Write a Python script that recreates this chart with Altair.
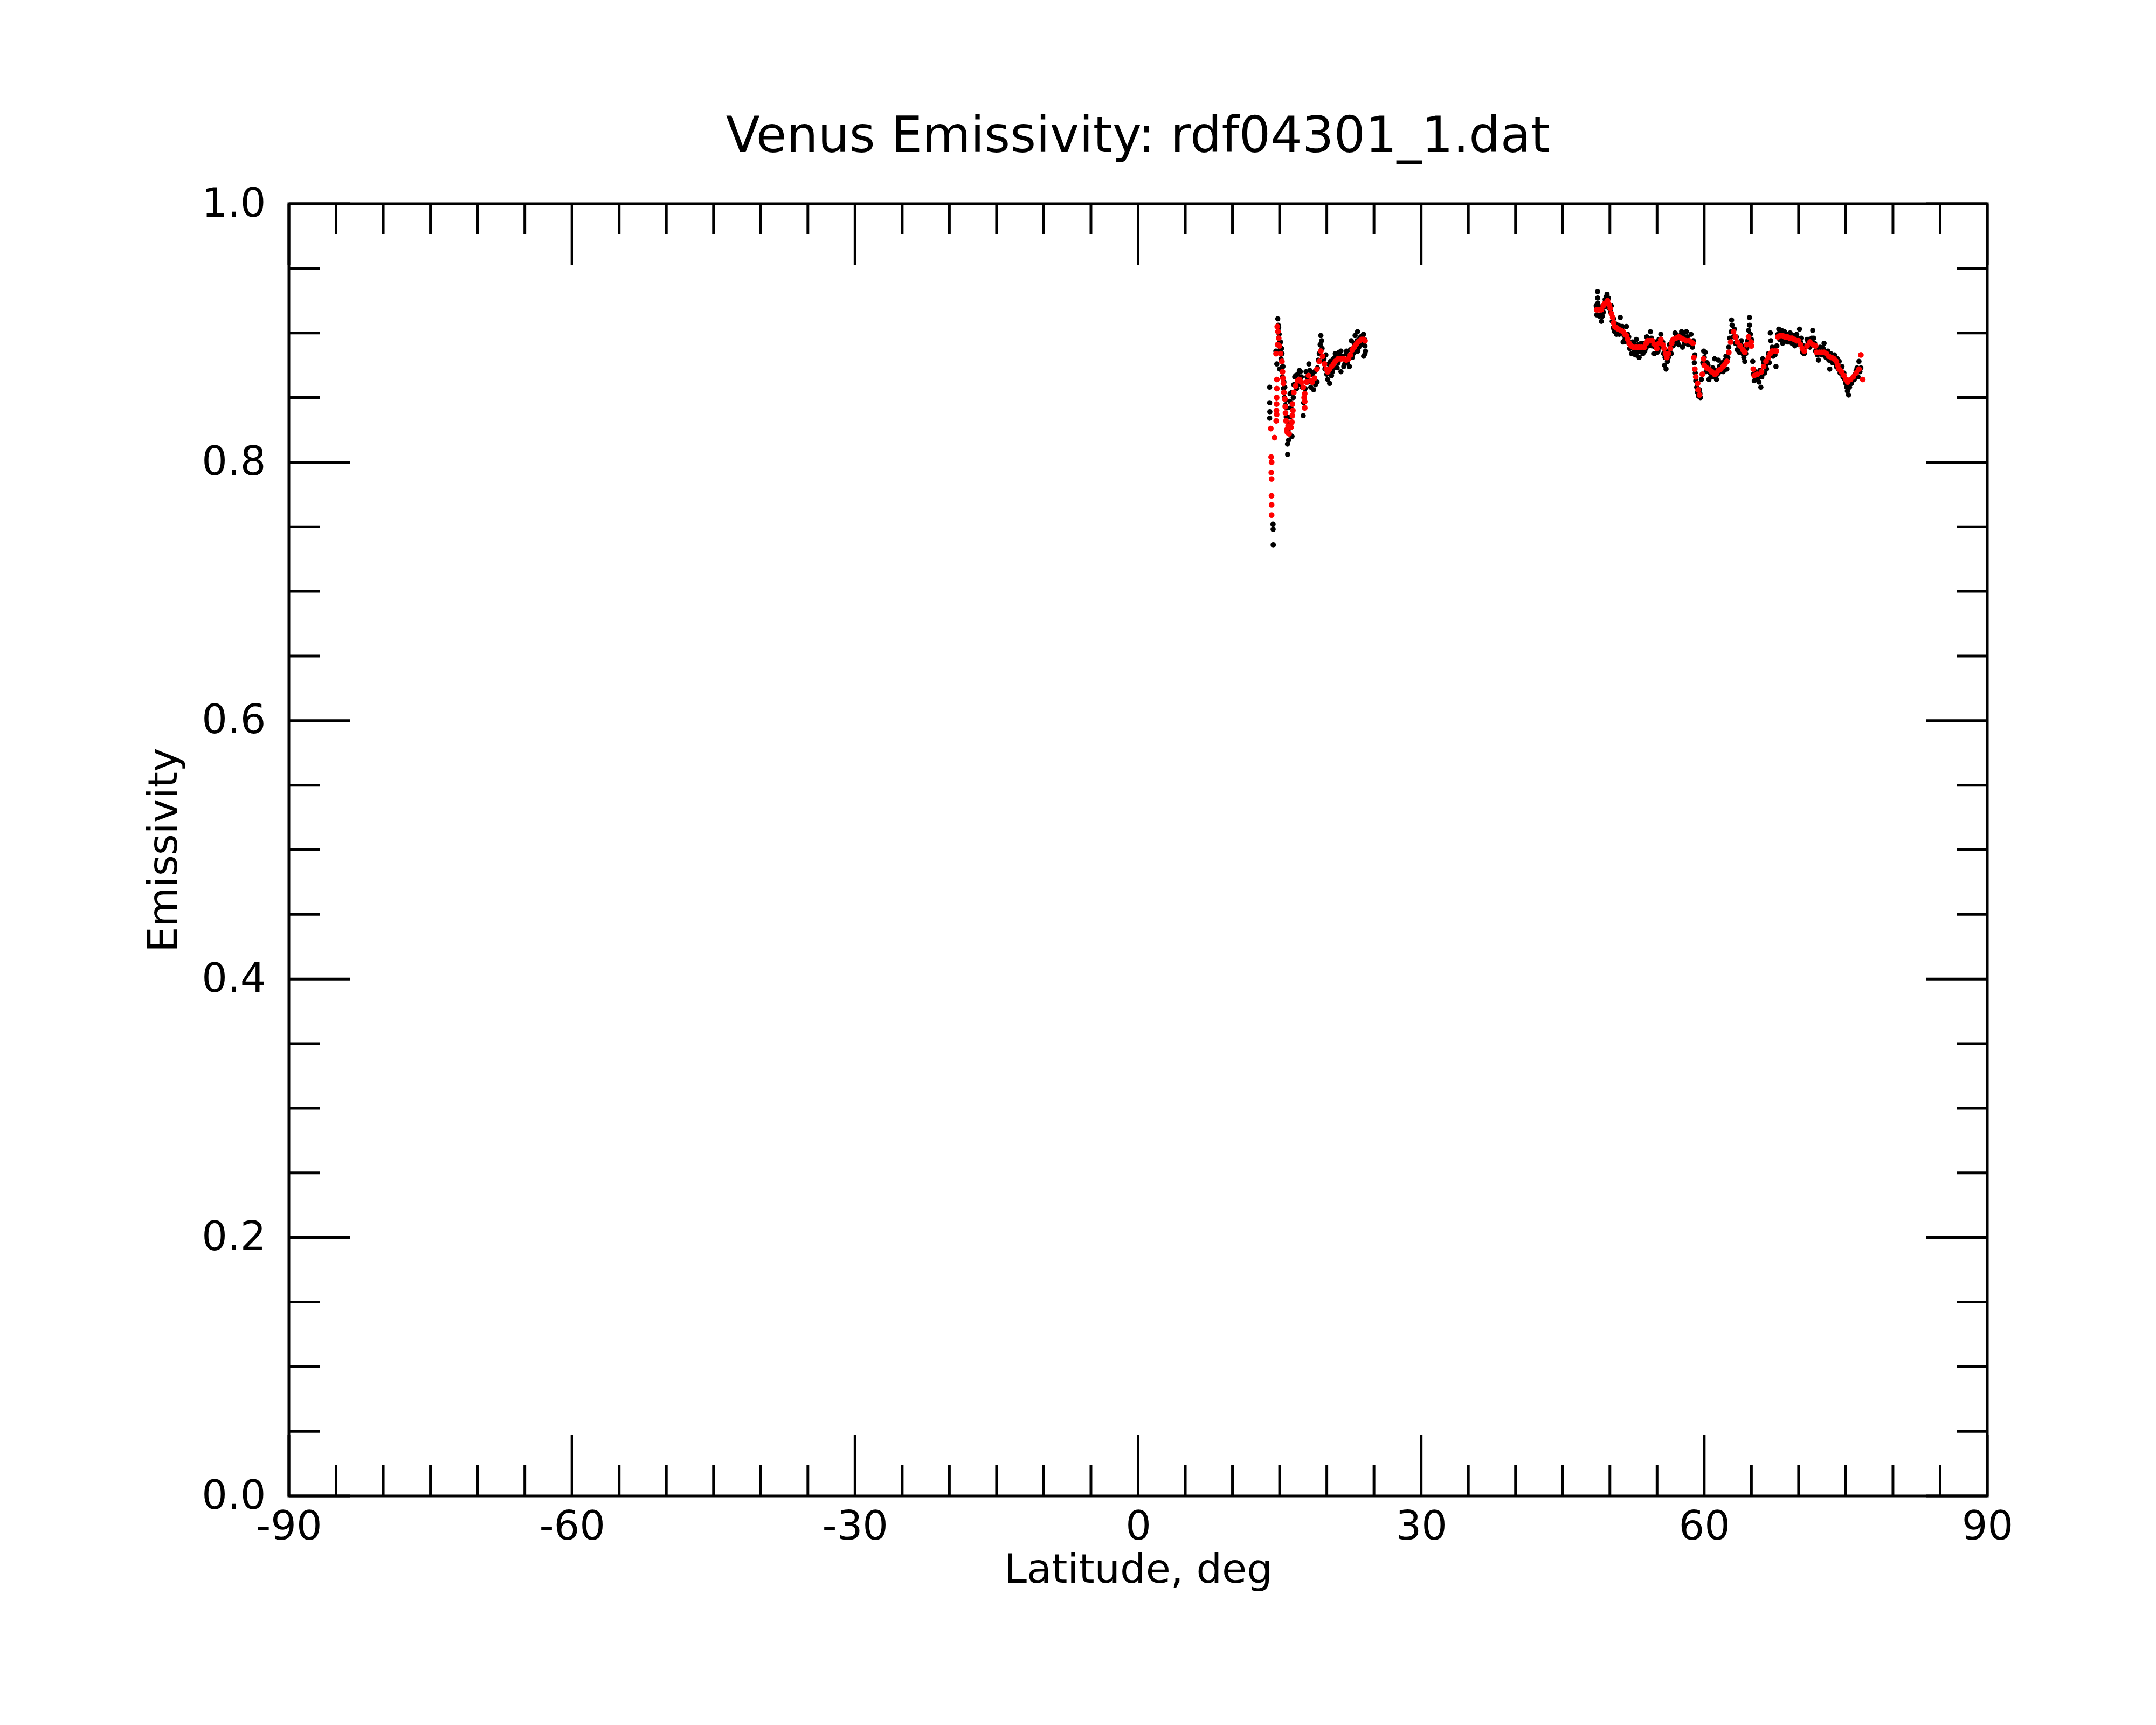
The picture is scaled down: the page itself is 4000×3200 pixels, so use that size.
import altair as alt
import pandas as pd

W, H = 3151, 2397

# ---- data (latitude in deg, emissivity) ----
black_lat = [
    13.94, 13.94, 13.96, 13.94, 14.30, 14.31, 14.32, 14.80, 14.85, 14.95,
    15.00, 15.05, 15.15, 15.20, 15.30, 15.40, 15.50, 15.60, 15.70, 15.83,
    15.85, 15.90, 16.10, 16.30, 16.30, 16.50, 16.70, 16.90, 17.10, 17.30,
    17.50, 17.55, 17.70, 17.90, 18.10, 18.30, 18.60, 18.70, 18.97, 19.10,
    19.30, 19.37, 19.45, 19.60, 19.90, 20.00, 20.30, 20.50, 20.70, 20.90,
    21.10, 21.30, 21.50, 21.50, 21.80, 22.06, 22.20, 22.40, 22.60, 22.80,
    23.00, 23.10, 23.26, 23.40, 23.60, 23.80, 23.90, 24.00, 24.10, 24.05,
    15.20, 15.00, 16.10, 16.10, 16.30,
    14.60, 14.70, 14.90, 15.10, 15.25, 15.35, 15.45, 15.55, 15.65, 15.75,
    15.95, 16.00, 16.20, 16.45, 16.60, 16.80, 17.00, 17.20, 17.40, 17.80,
    18.00, 18.20, 18.45, 18.80, 19.00, 19.20, 19.50, 19.70, 19.80, 20.10,
    20.20, 20.40, 20.60, 20.80, 21.00, 21.20, 21.40, 21.70, 21.90, 22.10,
    22.30, 22.50, 22.70, 22.90, 23.20, 23.30, 23.50, 23.70, 23.90, 24.05,
    48.55, 48.60, 48.70, 48.70, 48.72, 48.90, 49.10, 49.05, 49.30, 49.50,
    49.70, 49.60, 49.85, 50.00, 50.10, 50.25, 50.40, 50.50, 50.70, 50.90,
    51.10, 51.00, 51.40, 51.35, 51.75, 51.60, 51.90, 52.10, 52.30, 52.40,
    52.60, 52.80, 52.90, 53.10, 53.30, 53.50, 53.70, 53.90, 54.10, 54.30,
    54.50, 54.70, 54.90, 55.10, 55.40, 55.50, 55.70, 55.80, 55.95, 56.10,
    56.30, 56.50, 56.70, 56.90, 57.10, 57.30, 57.60, 57.70, 57.90, 58.10,
    58.30, 58.60, 58.75, 58.95, 59.05, 59.20, 59.40, 59.60, 59.50, 59.70,
    59.94, 60.10, 60.30, 60.50, 60.70, 60.90, 61.10, 61.30, 61.50, 61.70,
    61.90, 62.10, 62.30, 62.40, 62.60, 62.90, 62.95, 63.10, 63.30, 63.50,
    63.70, 63.94, 64.20, 64.30, 64.50, 64.80, 64.80, 64.90, 65.14, 65.30,
    65.50, 65.80, 66.00, 66.20, 66.40, 66.60, 66.90, 67.00, 67.05, 67.30,
    67.60, 67.70, 67.90, 68.10, 68.30, 68.50, 68.80, 69.10, 69.30, 69.60,
    69.80, 70.10, 70.30, 70.60, 70.70, 70.90, 71.20, 71.50, 71.60, 71.80,
    72.10, 72.30, 72.70, 72.90, 73.10, 73.30, 73.60, 73.80, 74.00, 74.30,
    74.60, 74.60, 74.90, 75.10, 75.17, 75.40, 75.60, 75.80, 76.00, 76.20,
    76.40, 76.50,
    48.65, 48.80, 49.00, 49.20, 49.40, 49.90, 50.15, 50.35, 50.60, 50.80,
    51.20, 51.50, 51.80, 52.00, 52.20, 52.50, 52.70, 53.00, 53.20, 53.40,
    53.60, 53.80, 54.00, 54.20, 54.40, 54.60, 54.80, 55.00, 55.20, 55.30,
    55.60, 55.85, 56.00, 56.20, 56.40, 56.60, 56.80, 57.00, 57.20, 57.45,
    57.80, 58.00, 58.20, 58.50, 58.85, 59.00, 59.10, 59.30, 59.55, 59.85,
    60.00, 60.20, 60.40, 60.60, 60.80, 61.00, 61.20, 61.40, 61.60, 61.80,
    62.00, 62.20, 62.50, 62.70, 62.85, 63.20, 63.40, 63.60, 63.85, 64.00,
    64.10, 64.40, 64.60, 64.70, 65.00, 65.20, 65.40, 65.70, 65.90, 66.10,
    66.30, 66.50, 66.70, 66.80, 67.20, 67.40, 67.50, 67.80, 68.00, 68.20,
    68.40, 68.65, 68.90, 69.00, 69.20, 69.45, 69.70, 69.90, 70.00, 70.20,
    70.40, 70.50, 71.00, 71.10, 71.30, 71.40, 71.70, 71.95, 72.00, 72.20,
    72.50, 72.60, 72.80, 73.00, 73.20, 73.40, 73.50, 73.70, 73.90, 74.10,
    74.20, 74.40, 74.50, 74.70, 74.80, 75.00, 75.30, 75.25, 75.50, 75.70,
    75.90, 76.10, 76.30, 76.60,
]
black_em = [
    0.858, 0.846, 0.839, 0.834, 0.752, 0.748, 0.736, 0.911, 0.906, 0.899,
    0.893, 0.887, 0.880, 0.873, 0.866, 0.857, 0.850, 0.844, 0.835, 0.814,
    0.806, 0.825, 0.835, 0.820, 0.854, 0.860, 0.867, 0.868, 0.871, 0.866,
    0.836, 0.846, 0.857, 0.866, 0.876, 0.858, 0.856, 0.870, 0.862, 0.879,
    0.891, 0.898, 0.894, 0.878, 0.883, 0.868, 0.861, 0.867, 0.880, 0.884,
    0.873, 0.885, 0.886, 0.870, 0.874, 0.884, 0.877, 0.874, 0.894, 0.884,
    0.898, 0.886, 0.901, 0.889, 0.897, 0.898, 0.882, 0.895, 0.886, 0.890,
    0.888, 0.872, 0.853, 0.847, 0.820,
    0.886, 0.876, 0.904, 0.893, 0.884, 0.874, 0.862, 0.858, 0.848, 0.842,
    0.817, 0.829, 0.842, 0.850, 0.866, 0.857, 0.860, 0.870, 0.858, 0.870,
    0.862, 0.871, 0.868, 0.860, 0.873, 0.884, 0.888, 0.880, 0.872, 0.864,
    0.876, 0.878, 0.870, 0.873, 0.881, 0.877, 0.883, 0.882, 0.876, 0.886,
    0.882, 0.887, 0.881, 0.892, 0.894, 0.886, 0.896, 0.891, 0.899, 0.884,
    0.921, 0.914, 0.932, 0.927, 0.923, 0.913, 0.909, 0.914, 0.916, 0.926,
    0.930, 0.928, 0.927, 0.921, 0.916, 0.909, 0.911, 0.901, 0.899, 0.906,
    0.912, 0.899, 0.893, 0.905, 0.905, 0.895, 0.899, 0.888, 0.884, 0.893,
    0.886, 0.895, 0.885, 0.881, 0.892, 0.884, 0.886, 0.897, 0.890, 0.901,
    0.890, 0.884, 0.893, 0.886, 0.899, 0.890, 0.884, 0.875, 0.872, 0.878,
    0.891, 0.884, 0.890, 0.900, 0.893, 0.891, 0.901, 0.889, 0.892, 0.901,
    0.891, 0.899, 0.889, 0.877, 0.869, 0.858, 0.851, 0.850, 0.856, 0.864,
    0.886, 0.885, 0.877, 0.864, 0.866, 0.873, 0.880, 0.864, 0.879, 0.870,
    0.877, 0.871, 0.882, 0.872, 0.889, 0.910, 0.906, 0.897, 0.892, 0.887,
    0.885, 0.894, 0.881, 0.878, 0.888, 0.912, 0.906, 0.899, 0.878, 0.863,
    0.864, 0.862, 0.858, 0.880, 0.869, 0.872, 0.877, 0.900, 0.894, 0.882,
    0.874, 0.890, 0.903, 0.900, 0.892, 0.901, 0.893, 0.900, 0.892, 0.890,
    0.899, 0.903, 0.896, 0.884, 0.889, 0.895, 0.889, 0.902, 0.896, 0.886,
    0.879, 0.889, 0.892, 0.881, 0.886, 0.872, 0.877, 0.883, 0.874, 0.878,
    0.874, 0.870, 0.864, 0.858, 0.855, 0.858, 0.861, 0.866, 0.868, 0.873,
    0.878, 0.870,
    0.918, 0.921, 0.920, 0.913, 0.920, 0.919, 0.921, 0.904, 0.907, 0.902,
    0.905, 0.898, 0.893, 0.897, 0.891, 0.892, 0.883, 0.891, 0.886, 0.887,
    0.892, 0.888, 0.896, 0.891, 0.896, 0.892, 0.889, 0.885, 0.895, 0.889,
    0.893, 0.881, 0.886, 0.881, 0.885, 0.894, 0.892, 0.899, 0.895, 0.898,
    0.898, 0.892, 0.897, 0.892, 0.894, 0.883, 0.863, 0.854, 0.853, 0.877,
    0.881, 0.870, 0.875, 0.869, 0.868, 0.866, 0.871, 0.868, 0.874, 0.875,
    0.870, 0.879, 0.881, 0.896, 0.901, 0.903, 0.897, 0.891, 0.888, 0.890,
    0.884, 0.884, 0.894, 0.902, 0.895, 0.868, 0.870, 0.865, 0.871, 0.866,
    0.877, 0.875, 0.879, 0.884, 0.889, 0.888, 0.883, 0.899, 0.895, 0.902,
    0.895, 0.899, 0.899, 0.893, 0.898, 0.898, 0.892, 0.896, 0.891, 0.893,
    0.885, 0.890, 0.892, 0.895, 0.891, 0.896, 0.892, 0.888, 0.883, 0.887,
    0.883, 0.888, 0.886, 0.882, 0.879, 0.884, 0.878, 0.879, 0.877, 0.880,
    0.872, 0.869, 0.873, 0.866, 0.869, 0.861, 0.852, 0.860, 0.861, 0.863,
    0.864, 0.871, 0.866, 0.873,
]

red_lat = [
    14.06, 14.10, 14.15, 14.12, 14.15, 14.14, 14.15, 14.15, 14.46,
    14.70, 14.70, 14.68, 14.68, 14.66, 14.68, 14.64,
    14.75, 14.82, 14.90, 14.78, 14.62, 14.98, 15.10, 15.24, 15.30, 15.35,
    15.40, 15.45, 15.55, 15.60, 15.62, 15.68, 15.75, 15.82,
    16.35, 16.40, 16.35, 16.30, 16.20, 16.00, 15.90,
    16.50, 16.70, 16.90, 17.10, 17.30, 17.50,
    17.66, 17.66, 17.66, 17.60,
    17.85, 18.06, 18.30, 18.45, 18.70, 18.95, 19.20, 19.37, 19.55, 19.75,
    19.95, 20.10, 20.30, 20.50, 20.70, 20.90, 21.20, 21.50, 21.80, 22.06,
    22.30, 22.50, 22.70, 22.90, 23.10, 23.30, 23.50, 23.70, 23.90, 24.05,
    48.60, 48.85, 49.09, 49.30, 49.47, 49.75, 49.90, 50.04, 50.17, 50.30,
    50.40, 50.50, 50.70, 50.90, 51.15, 51.40, 51.60, 51.75, 51.90, 52.04,
    52.25, 52.50, 52.80, 53.08, 53.35, 53.66, 53.85, 54.00, 54.25, 54.50,
    54.75, 54.97, 55.20, 55.40, 55.60, 55.75, 55.90, 56.04, 56.20, 56.40,
    56.55, 56.70, 57.00, 57.30, 57.55, 57.80, 58.10, 58.40, 58.60, 58.80,
    58.90, 59.00, 59.10, 59.30, 59.35, 59.50, 59.80, 59.94, 60.00, 60.25,
    60.50, 60.80, 61.10, 61.30, 61.50, 61.75, 62.00, 62.20, 62.40, 62.60,
    62.80, 63.10, 63.30, 63.50, 63.80, 64.10, 64.30, 64.50, 64.70, 64.97,
    65.00, 65.20, 65.30, 65.60, 66.06, 66.30, 66.55, 66.80, 67.00, 67.20,
    67.45, 67.65, 67.80, 68.05, 68.30, 68.55, 68.80, 69.05, 69.30, 69.55,
    69.80, 70.00, 70.20, 70.40, 70.60, 70.90, 71.20, 71.50, 71.80, 71.90,
    72.20, 72.45, 72.70, 72.95, 73.20, 73.50, 73.75, 74.00, 74.15, 74.30,
    74.55, 74.80, 75.00, 75.20, 75.50, 75.80, 76.10, 76.40, 76.60, 76.80,
]
red_em = [
    0.826, 0.804, 0.800, 0.792, 0.787, 0.774, 0.767, 0.759, 0.819,
    0.864, 0.857, 0.850, 0.845, 0.840, 0.837, 0.832,
    0.905, 0.901, 0.896, 0.891, 0.884, 0.890, 0.884, 0.878, 0.870, 0.865,
    0.861, 0.854, 0.849, 0.843, 0.838, 0.832, 0.825, 0.823,
    0.845, 0.840, 0.836, 0.831, 0.827, 0.822, 0.828,
    0.854, 0.859, 0.863, 0.864, 0.862, 0.858,
    0.853, 0.847, 0.842, 0.850,
    0.862, 0.867, 0.863, 0.862, 0.865, 0.872, 0.878, 0.886, 0.882, 0.876,
    0.872, 0.870, 0.872, 0.874, 0.876, 0.878, 0.880, 0.880, 0.880, 0.879,
    0.880, 0.883, 0.887, 0.889, 0.891, 0.893, 0.894, 0.895, 0.895, 0.894,
    0.918, 0.918, 0.918, 0.921, 0.923, 0.925, 0.922, 0.919, 0.915, 0.912,
    0.908, 0.905, 0.904, 0.903, 0.902, 0.901, 0.899, 0.898, 0.895, 0.892,
    0.890, 0.889, 0.889, 0.889, 0.889, 0.889, 0.892, 0.894, 0.894, 0.894,
    0.891, 0.888, 0.892, 0.895, 0.891, 0.888, 0.884, 0.881, 0.884, 0.888,
    0.892, 0.895, 0.896, 0.897, 0.896, 0.895, 0.894, 0.894, 0.893, 0.892,
    0.881, 0.872, 0.866, 0.861, 0.856, 0.852, 0.868, 0.880, 0.875, 0.873,
    0.872, 0.870, 0.868, 0.869, 0.871, 0.872, 0.874, 0.876, 0.878, 0.885,
    0.893, 0.901, 0.897, 0.893, 0.890, 0.887, 0.885, 0.891, 0.897, 0.893,
    0.890, 0.872, 0.867, 0.868, 0.870, 0.874, 0.878, 0.881, 0.884, 0.886,
    0.886, 0.886, 0.897, 0.898, 0.898, 0.897, 0.897, 0.896, 0.896, 0.895,
    0.894, 0.894, 0.891, 0.888, 0.886, 0.890, 0.893, 0.891, 0.890, 0.885,
    0.885, 0.885, 0.885, 0.884, 0.882, 0.881, 0.880, 0.878, 0.875, 0.872,
    0.870, 0.867, 0.864, 0.862, 0.864, 0.866, 0.869, 0.872, 0.883, 0.864,
]

# ---- tick positions ----
x_major = [-90, -60, -30, 0, 30, 60, 90]
x_minor = [v for v in range(-85, 90, 5) if v % 30 != 0]
y_major = [0.0, 0.2, 0.4, 0.6, 0.8, 1.0]
y_minor = [0.05, 0.1, 0.15, 0.25, 0.3, 0.35, 0.45, 0.5, 0.55,
           0.65, 0.7, 0.75, 0.85, 0.9, 0.95]

MAJ, MIN, LW = 113, 57, 5
FONT = "DejaVu Sans"

black_df = pd.DataFrame({"lat": black_lat, "em": black_em})
red_df = pd.DataFrame({"lat": red_lat, "em": red_em})

xs = alt.Scale(domain=[-90, 90], nice=False, zero=False)
ys = alt.Scale(domain=[0, 1], nice=False, zero=False)

x_axis = alt.Axis(
    values=x_major, title="Latitude, deg", labelExpr="datum.value + ''",
    ticks=False, tickSize=0, domain=False, grid=False,
    labelFont=FONT, labelFontSize=75, labelColor="black", labelPadding=21,
    labelFlush=False, labelOverlap=False,
    titleFont=FONT, titleFontSize=75, titleFontWeight="normal", titleColor="black",
    titleBaseline="alphabetic", titleAlign="center", titleX=W / 2, titleY=160,
)
y_axis = alt.Axis(
    values=y_major, title="Emissivity", format=".1f",
    ticks=False, tickSize=0, domain=False, grid=False,
    labelFont=FONT, labelFontSize=75, labelColor="black", labelPadding=43,
    labelFlush=False, labelOverlap=False,
    titleFont=FONT, titleFontSize=75, titleFontWeight="normal", titleColor="black",
    titleAngle=270, titleBaseline="alphabetic", titleAlign="center",
    titleX=-209, titleY=H / 2,
)

black_pts = alt.Chart(black_df).mark_circle(color="black", size=95, opacity=1).encode(
    x=alt.X("lat:Q", scale=xs, axis=x_axis),
    y=alt.Y("em:Q", scale=ys, axis=y_axis),
)
red_pts = alt.Chart(red_df).mark_circle(color="#ff0000", size=115, opacity=1).encode(
    x=alt.X("lat:Q", scale=xs),
    y=alt.Y("em:Q", scale=ys),
)


def xticks(vals, length):
    df = pd.DataFrame({"lat": vals})
    base = alt.Chart(df).mark_rule(color="black", strokeWidth=LW)
    bottom = base.encode(x=alt.X("lat:Q", scale=xs), y=alt.value(H), y2=alt.value(H - length))
    top = base.encode(x=alt.X("lat:Q", scale=xs), y=alt.value(0), y2=alt.value(length))
    return [bottom, top]


def yticks(vals, length):
    df = pd.DataFrame({"em": vals})
    base = alt.Chart(df).mark_rule(color="black", strokeWidth=LW)
    left = base.encode(y=alt.Y("em:Q", scale=ys), x=alt.value(0), x2=alt.value(length))
    right = base.encode(y=alt.Y("em:Q", scale=ys), x=alt.value(W), x2=alt.value(W - length))
    return [left, right]


layers = [black_pts, red_pts]
layers += xticks(x_major, MAJ) + xticks(x_minor, MIN)
layers += yticks(y_major, MAJ) + yticks(y_minor, MIN)

chart = alt.layer(*layers).properties(
    width=W, height=H,
    title=alt.Title(
        "Venus Emissivity: rdf04301_1.dat", font=FONT, fontSize=92,
        fontWeight="normal", color="black", anchor="middle", offset=40,
    ),
    autosize=alt.AutoSizeParams(type="none"),
    padding={"left": 528, "top": 370, "right": 305, "bottom": 417},
    background="white",
).configure_view(stroke="black", strokeWidth=LW)

chart.save("out.html", embed_options={"renderer": "svg", "actions": False})
